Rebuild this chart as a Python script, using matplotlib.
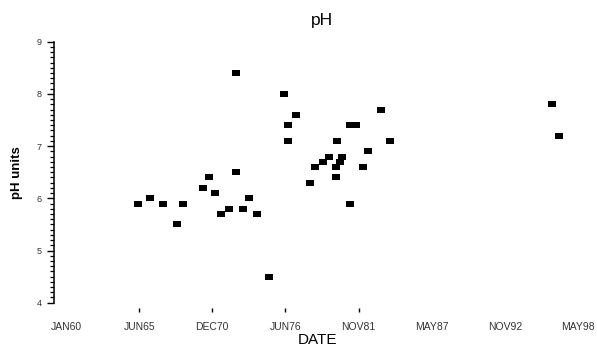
import pandas as pd
import matplotlib
matplotlib.use("Agg")
import matplotlib.pyplot as plt
from matplotlib.ticker import MultipleLocator

plt.rcParams['font.family'] = ['Liberation Sans', 'DejaVu Sans']

# sample dates and pH readings
sample_dates = [
    '1965-05-19', '1966-04-18', '1967-04-17', '1968-04-24', '1968-10-14',
    '1970-04-12', '1970-09-07', '1971-03-06', '1971-08-17', '1972-03-22',
    '1972-09-12', '1972-09-29', '1973-04-08', '1973-09-10', '1974-04-08',
    '1975-03-02', '1976-04-14', '1976-08-01', '1976-08-01', '1977-03-24',
    '1978-04-02', '1978-08-16', '1979-03-31', '1979-09-10', '1980-03-11',
    '1980-03-19', '1980-04-07', '1980-07-06', '1980-09-10', '1981-03-28',
    '1981-04-05', '1981-09-08', '1982-03-18', '1982-08-20', '1983-08-05',
    '1984-03-24', '1996-05-27', '1996-12-04',
]
ph_values = [
    5.9, 6.0, 5.9, 5.5, 5.9,
    6.2, 6.4, 6.1, 5.7, 5.8,
    8.4, 6.5, 5.8, 6.0, 5.7,
    4.5, 8.0, 7.4, 7.1, 7.6,
    6.3, 6.6, 6.7, 6.8, 6.6,
    6.4, 7.1, 6.7, 6.8, 7.4,
    5.9, 7.4, 6.6, 6.9, 7.7,
    7.1, 7.8, 7.2,
]

# x axis ticks every 2000 days from 01JAN1960
tick_dates = ['1960-01-01', '1965-06-24', '1970-12-14', '1976-06-05',
              '1981-11-26', '1987-05-19', '1992-11-08', '1998-05-01']
tick_labels = ['JAN60', 'JUN65', 'DEC70', 'JUN76',
               'NOV81', 'MAY87', 'NOV92', 'MAY98']
shown_tick_marks = ['JUN65', 'DEC70', 'JUN76', 'NOV81']

x = pd.to_datetime(sample_dates)
ticks = pd.to_datetime(tick_dates)

fig = plt.figure(figsize=(5.97, 3.54), dpi=100)
ax = fig.add_axes([54 / 597, 51.3 / 354, 536 / 597, 261 / 354])

box = [(-1, -0.8), (1, -0.8), (1, 0.8), (-1, 0.8), (-1, -0.8)]
ax.plot(x, ph_values, linestyle='none', marker=box, markersize=5.2,
        color='black', markeredgewidth=0)

ax.set_ylim(4, 9)
ax.set_xlim(pd.Timestamp('1959-02-10'), pd.Timestamp('1999-03-20'))

ax.spines['top'].set_visible(False)
ax.spines['right'].set_visible(False)
ax.spines['bottom'].set_visible(False)
ax.spines['bottom'].set_position(('outward', 4))
ax.spines['left'].set_bounds(4, 9)
ax.spines['left'].set_linewidth(1.1)

ax.yaxis.set_major_locator(MultipleLocator(1))
ax.yaxis.set_minor_locator(MultipleLocator(0.1))
ax.tick_params(axis='y', which='major', length=5, width=1, labelsize=6.5,
               pad=4, labelcolor='#333333')
ax.tick_params(axis='y', which='minor', length=3, width=0.9)

ax.set_xticks(ticks)
ax.set_xticklabels(tick_labels)
ax.tick_params(axis='x', which='major', length=3, width=1, labelsize=7.5,
               pad=7, labelcolor='#333333')
for tk, lab in zip(ax.xaxis.get_major_ticks(), tick_labels):
    if lab not in shown_tick_marks:
        tk.tick1line.set_visible(False)

ax.set_ylabel('pH units', fontsize=9.5, fontweight='bold')
ax.yaxis.set_label_coords(-0.058, 0.5)
ax.set_xlabel('DATE', fontsize=11)
ax.xaxis.set_label_coords(0.492, -0.116)
ax.set_title('pH', fontsize=12.5, pad=12)

fig.savefig('out.png', dpi=100)
